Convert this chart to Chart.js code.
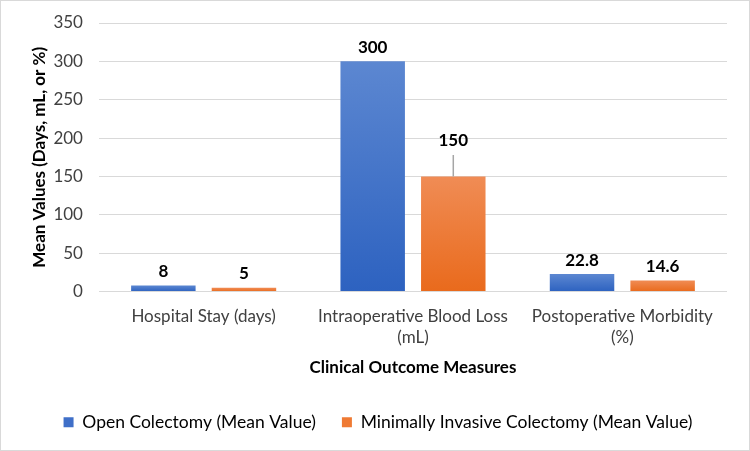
<!DOCTYPE html>
<html>
<head>
<meta charset="utf-8">
<script src="https://cdn.jsdelivr.net/npm/chart.js@4/dist/chart.umd.min.js"></script>
<style>
  html, body { margin: 0; padding: 0; background: #fff; }
  #wrap { width: 750px; height: 451px; box-sizing: border-box; border: 1px solid #d9d9d9; }
</style>
</head>
<body>
<div id="wrap"><canvas id="myChart" width="748" height="449"></canvas></div>
<script>
var categories = [["Hospital Stay (days)"], ["Intraoperative Blood Loss", "(mL)"], ["Postoperative Morbidity", "(%)"]];
var openValues = [8, 300, 22.8];
var minimalValues = [5, 150, 14.6];
// only the 150 bar shows an error whisker
var openErrors = [0, 0, 0];
var minimalErrors = [0, 28, 0];
var yTicks = [0, 50, 100, 150, 200, 250, 300, 350];

var FONT = "Lato, 'Open Sans', sans-serif";

function barGradient(top, bottom) {
    return function(ctx) {
        if (ctx.type !== 'data') return bottom;
        var chart = ctx.chart;
        var y = chart.scales.y;
        if (!y || !chart.chartArea) return bottom;
        var y0 = y.getPixelForValue(ctx.raw);
        var y1 = y.getPixelForValue(0);
        if (!isFinite(y0) || !isFinite(y1) || y0 === y1) return bottom;
        var g = chart.ctx.createLinearGradient(0, y0, 0, y1);
        g.addColorStop(0, top);
        g.addColorStop(1, bottom);
        return g;
    };
}

var labelsPlugin = {
    id: 'valueLabels',
    afterDatasetsDraw: function(chart) {
        var c = chart.ctx;
        var y = chart.scales.y;
        var errs = [openErrors, minimalErrors];
        c.save();
        chart.data.datasets.forEach(function(ds, di) {
            var meta = chart.getDatasetMeta(di);
            meta.data.forEach(function(bar, i) {
                var top = bar.y;
                var e = errs[di][i];
                if (e) {
                    var ey = y.getPixelForValue(ds.data[i] + e);
                    c.strokeStyle = '#a6a6a6';
                    c.lineWidth = 1.5;
                    c.beginPath();
                    c.moveTo(bar.x, bar.y);
                    c.lineTo(bar.x, ey);
                    c.stroke();
                    top = ey;
                }
                c.fillStyle = '#000';
                c.font = "bold 17px " + FONT;
                c.textAlign = 'center';
                c.textBaseline = 'middle';
                c.fillText(String(ds.data[i]), bar.x, top - 14);
            });
        });
        c.restore();
    }
};

var ctx = document.getElementById('myChart');
var chart = new Chart(ctx, {
    type: 'bar',
    data: {
        labels: categories,
        datasets: [{
            label: "Open Colectomy (Mean Value)",
            data: openValues,
            backgroundColor: barGradient('#5c87d1', '#2d62c0'),
            borderWidth: 0
        }, {
            label: "Minimally Invasive Colectomy (Mean Value)",
            data: minimalValues,
            backgroundColor: barGradient('#f08c55', '#e96a1c'),
            borderWidth: 0
        }]
    },
    options: {
        responsive: false,
        animation: false,
        layout: { padding: { left: 28, right: 22, top: 22, bottom: 9 } },
        datasets: { bar: { categoryPercentage: 0.77, barPercentage: 0.8 } },
        plugins: {
            tooltip: { enabled: false },
            legend: {
                position: 'bottom',
                labels: {
                    boxWidth: 10, boxHeight: 10, padding: 26,
                    color: '#404040',
                    font: { family: FONT, size: 17.5 },
                    generateLabels: function(chart) {
                        var cols = ['#3f6fc8', '#ef7a33'];
                        return chart.data.datasets.map(function(ds, i) {
                            return { text: ds.label, fillStyle: cols[i], strokeStyle: cols[i], lineWidth: 0, datasetIndex: i };
                        });
                    }
                }
            }
        },
        scales: {
            x: {
                grid: { display: false },
                border: { display: false },
                ticks: { color: '#404040', font: { family: FONT, size: 17, lineHeight: 1.25 }, maxRotation: 0, padding: 6 },
                title: { display: true, text: 'Clinical Outcome Measures', color: '#000', font: { family: FONT, size: 17, weight: 'bold' }, padding: { top: 3, bottom: 10 } }
            },
            y: {
                min: 0, max: 350,
                afterBuildTicks: function(axis) { axis.ticks = yTicks.map(function(v) { return { value: v }; }); },
                afterFit: function(axis) { axis.paddingTop = 0; },
                grid: { color: '#d9d9d9', lineWidth: 1, drawTicks: false },
                border: { display: false },
                ticks: { color: '#404040', font: { family: FONT, size: 17 }, padding: 16 },
                title: { display: true, text: 'Mean Values (Days, mL, or %)', color: '#000', font: { family: FONT, size: 17, weight: 'bold' }, padding: { top: 0, bottom: -12 } }
            }
        }
    },
    plugins: [labelsPlugin]
});
</script>
</body>
</html>
